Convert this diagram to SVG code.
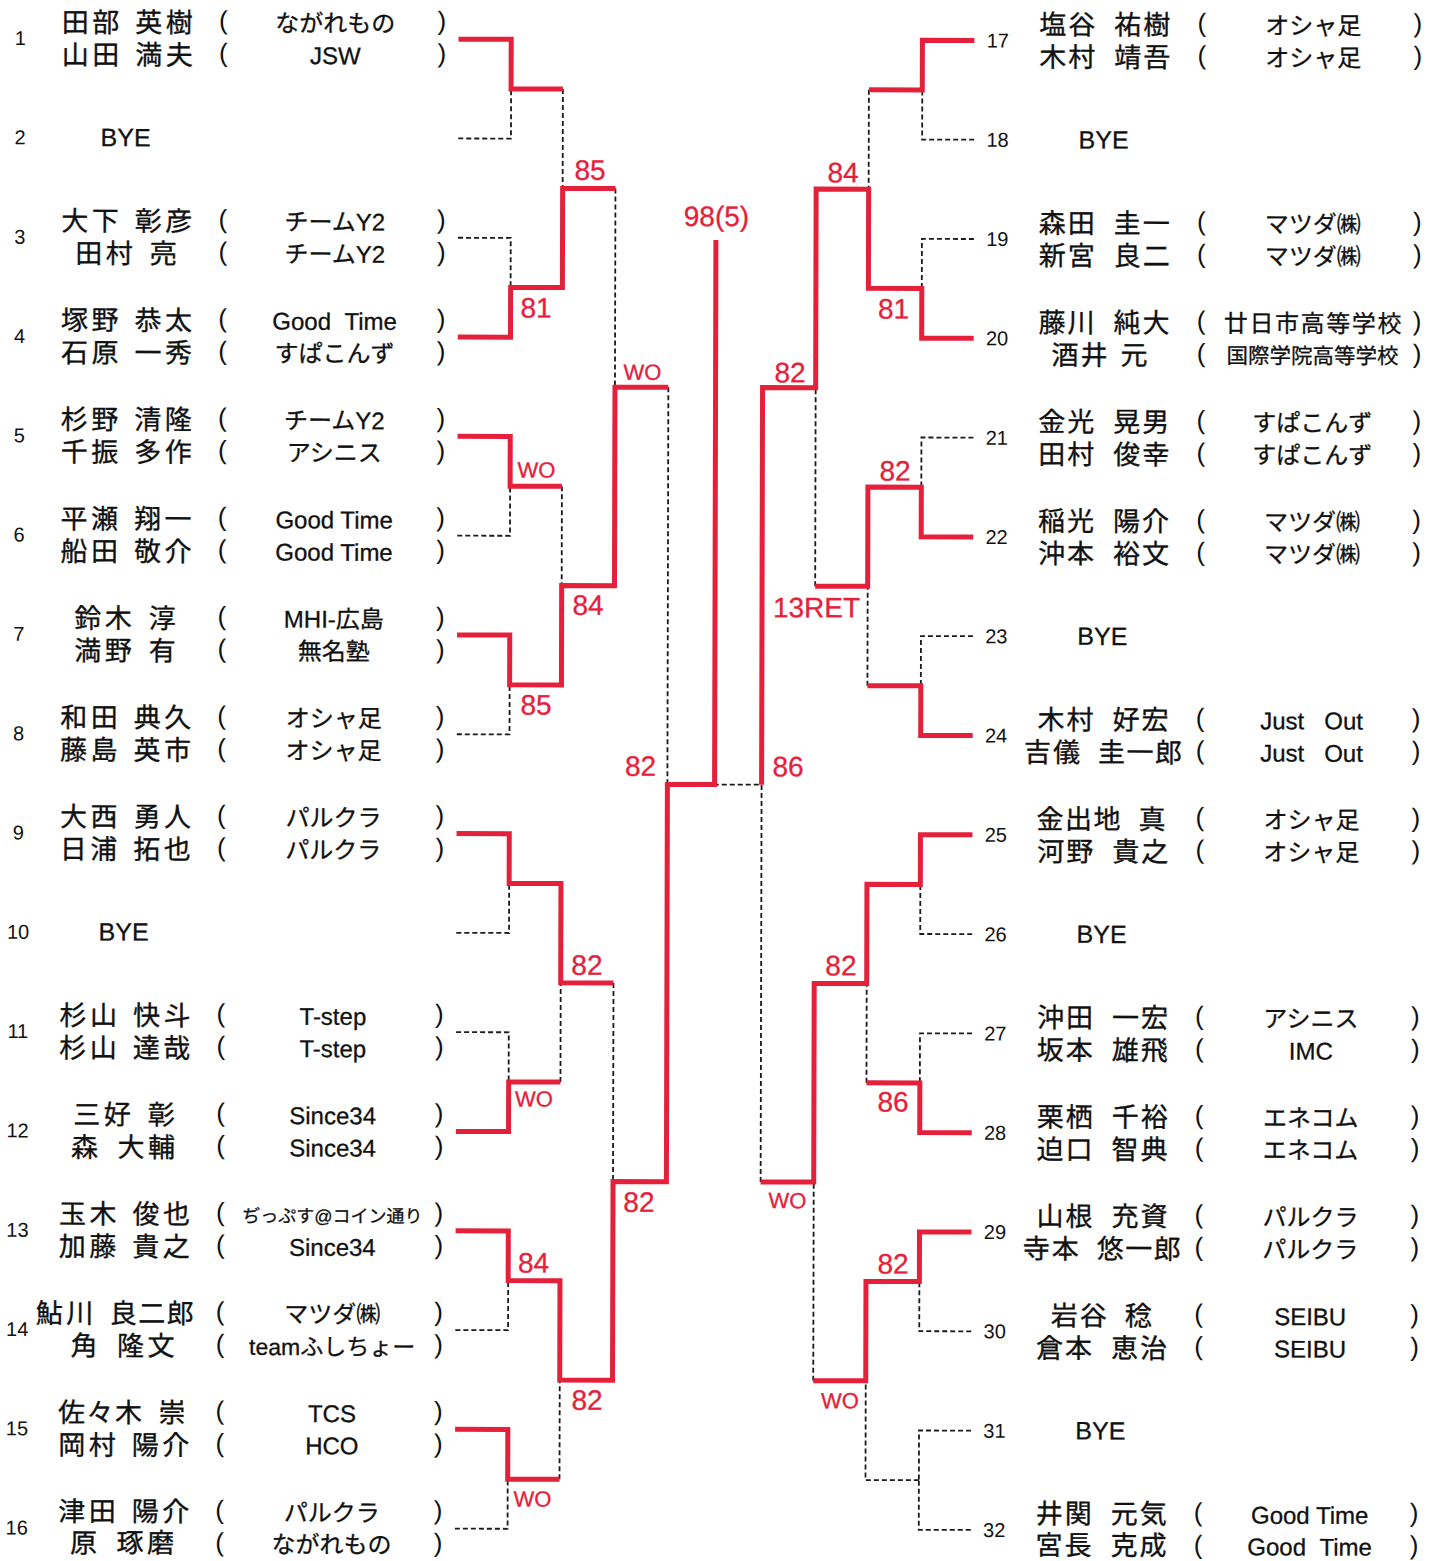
<svg xmlns="http://www.w3.org/2000/svg" width="1440" height="1561" viewBox="0 0 1440 1561">
<style>
.w{fill:none;stroke:#E5203A;stroke-width:5;stroke-linejoin:miter}
.d{fill:none;stroke:#1a1a1a;stroke-width:1.8;stroke-dasharray:5 3}
text{fill:#111}
.nm{font-family:"Noto Sans CJK JP","Noto Sans CJK SC",sans-serif;font-size:27px;stroke:#111;stroke-width:0.35px}
.a{letter-spacing:3.5px}
.b{letter-spacing:2px}
.c{letter-spacing:1.5px}
.tm{font-family:"Liberation Sans","Noto Sans CJK JP",sans-serif;font-size:24px;text-anchor:middle;stroke:#111;stroke-width:0.3px}
.pr{font-family:"Liberation Sans",sans-serif;font-size:26px;text-anchor:middle}
.no{font-family:"Liberation Sans",sans-serif;font-size:20px;text-anchor:middle}
.by{font-family:"Liberation Sans",sans-serif;font-size:25px;text-anchor:middle;stroke:#111;stroke-width:0.3px}
.sc{font-family:"Liberation Sans",sans-serif;font-size:28px;text-anchor:middle;fill:#E5203A;stroke:#E5203A;stroke-width:0.3px}
.wo{font-size:22px}
</style>
<rect width="1440" height="1561" fill="#fff"/>
<g transform="rotate(0.14 720 780)">
<g id="connectors">
<path class="d" d="M456.7,139.1 H509.4 V89.5 M456.7,238.4 H509.4 V288 M561.2,89.5 V188.8 M456.7,536.3 H509.4 V486.7 M456.7,734.9 H509.4 V685.3 M561.2,486.7 V586 M614,188.8 V387.4 M456.7,933.5 H509.4 V883.9 M456.7,1032.8 H509.4 V1082.5 M561.2,1082.5 V983.2 M456.7,1330.7 H509.4 V1281.1 M456.7,1529.3 H509.4 V1479.7 M561.2,1479.7 V1380.4 M614,983.2 V1181.8 M667.4,387.4 V784.6"/>
<path class="d" d="M972.6,139.1 H920.6 V89.5 M972.6,238.4 H920.6 V288 M867.2,89.5 V188.8 M972.6,437 H920.6 V486.7 M972.6,635.6 H920.6 V685.3 M867.2,685.3 V586 M814.7,586 V387.4 M972.6,933.5 H920.6 V883.9 M972.6,1032.8 H920.6 V1082.5 M867.2,1082.5 V983.2 M972.6,1330.7 H920.6 V1281.1 M972.6,1430 H920.6 V1479.7 M972.6,1529.3 H920.6 V1479.7 M920.6,1479.7 H867.2 V1380.4 M814.7,1380.4 V1181.8 M761.6,1181.8 V784.6 H714.6"/>
<path class="w" d="M456.7,39.8 H509.4 V89.5 H561.2"/>
<path class="w" d="M456.7,337.7 H509.4 V288 H561.2 V188.8 H614"/>
<path class="w" d="M456.7,437 H509.4 V486.7 H561.2"/>
<path class="w" d="M456.7,635.6 H509.4 V685.3 H561.2 V586 H614 V387.4 H667.4"/>
<path class="w" d="M456.7,834.2 H509.4 V883.9 H561.2 V983.2 H614"/>
<path class="w" d="M456.7,1132.1 H509.4 V1082.5 H561.2"/>
<path class="w" d="M456.7,1231.4 H509.4 V1281.1 H561.2 V1380.4 H614 V1181.8 H667.4 V784.6 H714.6 V240"/>
<path class="w" d="M456.7,1430 H509.4 V1479.7 H561.2"/>
<path class="w" d="M972.6,39.8 H920.6 V89.5 H867.2"/>
<path class="w" d="M972.6,337.7 H920.6 V288 H867.2 V188.8 H814.7 V387.4 H761.6 V784.6"/>
<path class="w" d="M972.6,536.3 H920.6 V486.7 H867.2 V586 H814.7"/>
<path class="w" d="M972.6,734.9 H920.6 V685.3 H867.2"/>
<path class="w" d="M972.6,834.2 H920.6 V883.9 H867.2 V983.2 H814.7 V1181.8 H761.6"/>
<path class="w" d="M972.6,1132.1 H920.6 V1082.5 H867.2"/>
<path class="w" d="M972.6,1231.4 H920.6 V1281.1 H867.2 V1380.4 H814.7"/>
</g>
<g id="scores">
<text class="sc" x="715.1" y="226">98(5)</text>
<text class="sc" x="588.5" y="180">85</text>
<text class="sc" x="534.9" y="318">81</text>
<text class="sc wo" x="641.5" y="380">WO</text>
<text class="sc wo" x="535.8" y="478">WO</text>
<text class="sc" x="587.6" y="615">84</text>
<text class="sc" x="535.8" y="715">85</text>
<text class="sc" x="640.5" y="776">82</text>
<text class="sc" x="587.4" y="975">82</text>
<text class="sc wo" x="534.8" y="1107">WO</text>
<text class="sc" x="640" y="1212">82</text>
<text class="sc" x="534.7" y="1273">84</text>
<text class="sc" x="588.5" y="1410">82</text>
<text class="sc wo" x="534.2" y="1507">WO</text>
<text class="sc" x="841.5" y="182">84</text>
<text class="sc" x="892.4" y="318">81</text>
<text class="sc" x="789" y="382">82</text>
<text class="sc" x="894.3" y="480">82</text>
<text class="sc" x="816.1" y="617">13RET</text>
<text class="sc" x="788" y="776">86</text>
<text class="sc" x="841.4" y="975">82</text>
<text class="sc" x="893.8" y="1111">86</text>
<text class="sc wo" x="788.5" y="1208">WO</text>
<text class="sc" x="894.2" y="1273">82</text>
<text class="sc wo" x="841.5" y="1408">WO</text>
</g>
<g id="slot-1">
<text class="no" x="18.5" y="46.8">1</text>
<text class="nm" y="33.5"><tspan class="a" x="60">田部</tspan><tspan class="a" x="133.5">英樹</tspan></text>
<text class="nm" y="66"><tspan class="a" x="60">山田</tspan><tspan class="a" x="133.5">満夫</tspan></text>
<text class="pr" y="30.3"><tspan x="221.5">(</tspan><tspan x="440">)</tspan></text>
<text class="pr" y="62.8"><tspan x="221.5">(</tspan><tspan x="440">)</tspan></text>
<text class="tm" x="333.5" y="32.8">ながれもの</text>
<text class="tm" x="333.5" y="65.1">JSW</text>
</g>
<g id="slot-2">
<text class="no" x="18.5" y="146.1">2</text>
<text class="by" x="124" y="147.6">BYE</text>
</g>
<g id="slot-3">
<text class="no" x="18.5" y="245.4">3</text>
<text class="nm" y="232.1"><tspan class="a" x="60">大下</tspan><tspan class="a" x="133.5">彰彦</tspan></text>
<text class="nm" y="264.6"><tspan class="a" x="74">田村</tspan><tspan x="148.5">亮</tspan></text>
<text class="pr" y="228.9"><tspan x="221.5">(</tspan><tspan x="440">)</tspan></text>
<text class="pr" y="261.4"><tspan x="221.5">(</tspan><tspan x="440">)</tspan></text>
<text class="tm" x="333.5" y="231.4">チームY2</text>
<text class="tm" x="333.5" y="263.7">チームY2</text>
</g>
<g id="slot-4">
<text class="no" x="18.5" y="344.7">4</text>
<text class="nm" y="331.4"><tspan class="a" x="60">塚野</tspan><tspan class="a" x="133.5">恭太</tspan></text>
<text class="nm" y="363.9"><tspan class="a" x="60">石原</tspan><tspan class="a" x="133.5">一秀</tspan></text>
<text class="pr" y="328.2"><tspan x="221.5">(</tspan><tspan x="440">)</tspan></text>
<text class="pr" y="360.7"><tspan x="221.5">(</tspan><tspan x="440">)</tspan></text>
<text class="tm" x="333.5" y="330.7">Good&#160;&#160;Time</text>
<text class="tm" x="333.5" y="363">すぱこんず</text>
</g>
<g id="slot-5">
<text class="no" x="18.5" y="444">5</text>
<text class="nm" y="430.7"><tspan class="a" x="60">杉野</tspan><tspan class="a" x="133.5">清隆</tspan></text>
<text class="nm" y="463.2"><tspan class="a" x="60">千振</tspan><tspan class="a" x="133.5">多作</tspan></text>
<text class="pr" y="427.5"><tspan x="221.5">(</tspan><tspan x="440">)</tspan></text>
<text class="pr" y="460"><tspan x="221.5">(</tspan><tspan x="440">)</tspan></text>
<text class="tm" x="333.5" y="430">チームY2</text>
<text class="tm" x="333.5" y="462.3">アシニス</text>
</g>
<g id="slot-6">
<text class="no" x="18.5" y="543.3">6</text>
<text class="nm" y="530"><tspan class="a" x="60">平瀬</tspan><tspan class="a" x="133.5">翔一</tspan></text>
<text class="nm" y="562.5"><tspan class="a" x="60">船田</tspan><tspan class="a" x="133.5">敬介</tspan></text>
<text class="pr" y="526.8"><tspan x="221.5">(</tspan><tspan x="440">)</tspan></text>
<text class="pr" y="559.3"><tspan x="221.5">(</tspan><tspan x="440">)</tspan></text>
<text class="tm" x="333.5" y="529.3">Good Time</text>
<text class="tm" x="333.5" y="561.6">Good Time</text>
</g>
<g id="slot-7">
<text class="no" x="18.5" y="642.6">7</text>
<text class="nm" y="629.3"><tspan class="a" x="74">鈴木</tspan><tspan x="148.5">淳</tspan></text>
<text class="nm" y="661.8"><tspan class="a" x="74">満野</tspan><tspan x="148.5">有</tspan></text>
<text class="pr" y="626.1"><tspan x="221.5">(</tspan><tspan x="440">)</tspan></text>
<text class="pr" y="658.6"><tspan x="221.5">(</tspan><tspan x="440">)</tspan></text>
<text class="tm" x="333.5" y="628.6">MHI-広島</text>
<text class="tm" x="333.5" y="660.9">無名塾</text>
</g>
<g id="slot-8">
<text class="no" x="18.5" y="741.9">8</text>
<text class="nm" y="728.6"><tspan class="a" x="60">和田</tspan><tspan class="a" x="133.5">典久</tspan></text>
<text class="nm" y="761.1"><tspan class="a" x="60">藤島</tspan><tspan class="a" x="133.5">英市</tspan></text>
<text class="pr" y="725.4"><tspan x="221.5">(</tspan><tspan x="440">)</tspan></text>
<text class="pr" y="757.9"><tspan x="221.5">(</tspan><tspan x="440">)</tspan></text>
<text class="tm" x="333.5" y="727.9">オシャ足</text>
<text class="tm" x="333.5" y="760.2">オシャ足</text>
</g>
<g id="slot-9">
<text class="no" x="18.5" y="841.2">9</text>
<text class="nm" y="827.9"><tspan class="a" x="60">大西</tspan><tspan class="a" x="133.5">勇人</tspan></text>
<text class="nm" y="860.4"><tspan class="a" x="60">日浦</tspan><tspan class="a" x="133.5">拓也</tspan></text>
<text class="pr" y="824.7"><tspan x="221.5">(</tspan><tspan x="440">)</tspan></text>
<text class="pr" y="857.2"><tspan x="221.5">(</tspan><tspan x="440">)</tspan></text>
<text class="tm" x="333.5" y="827.2">パルクラ</text>
<text class="tm" x="333.5" y="859.5">パルクラ</text>
</g>
<g id="slot-10">
<text class="no" x="18.5" y="940.5">10</text>
<text class="by" x="124" y="942">BYE</text>
</g>
<g id="slot-11">
<text class="no" x="18.5" y="1039.8">11</text>
<text class="nm" y="1026.5"><tspan class="a" x="60">杉山</tspan><tspan class="a" x="133.5">快斗</tspan></text>
<text class="nm" y="1059"><tspan class="a" x="60">杉山</tspan><tspan class="a" x="133.5">達哉</tspan></text>
<text class="pr" y="1023.3"><tspan x="221.5">(</tspan><tspan x="440">)</tspan></text>
<text class="pr" y="1055.8"><tspan x="221.5">(</tspan><tspan x="440">)</tspan></text>
<text class="tm" x="333.5" y="1025.8">T-step</text>
<text class="tm" x="333.5" y="1058.1">T-step</text>
</g>
<g id="slot-12">
<text class="no" x="18.5" y="1139.1">12</text>
<text class="nm" y="1125.8"><tspan class="a" x="74">三好</tspan><tspan x="148.5">彰</tspan></text>
<text class="nm" y="1158.3"><tspan x="72">森</tspan><tspan class="a" x="118.5">大輔</tspan></text>
<text class="pr" y="1122.6"><tspan x="221.5">(</tspan><tspan x="440">)</tspan></text>
<text class="pr" y="1155.1"><tspan x="221.5">(</tspan><tspan x="440">)</tspan></text>
<text class="tm" x="333.5" y="1125.1">Since34</text>
<text class="tm" x="333.5" y="1157.4">Since34</text>
</g>
<g id="slot-13">
<text class="no" x="18.5" y="1238.4">13</text>
<text class="nm" y="1225.1"><tspan class="a" x="60">玉木</tspan><tspan class="a" x="133.5">俊也</tspan></text>
<text class="nm" y="1257.6"><tspan class="a" x="60">加藤</tspan><tspan class="a" x="133.5">貴之</tspan></text>
<text class="pr" y="1221.9"><tspan x="221.5">(</tspan><tspan x="440">)</tspan></text>
<text class="pr" y="1254.4"><tspan x="221.5">(</tspan><tspan x="440">)</tspan></text>
<text class="tm" x="333.5" y="1223.4" style="font-size:18px">ぢっぷす@コイン通り</text>
<text class="tm" x="333.5" y="1256.7">Since34</text>
</g>
<g id="slot-14">
<text class="no" x="18.5" y="1337.7">14</text>
<text class="nm" y="1324.4"><tspan class="a" x="37">鮎川</tspan><tspan class="c" x="111">良二郎</tspan></text>
<text class="nm" y="1356.9"><tspan x="72">角</tspan><tspan class="a" x="118.5">隆文</tspan></text>
<text class="pr" y="1321.2"><tspan x="221.5">(</tspan><tspan x="440">)</tspan></text>
<text class="pr" y="1353.7"><tspan x="221.5">(</tspan><tspan x="440">)</tspan></text>
<text class="tm" x="333.5" y="1323.7">マツダ㈱</text>
<text class="tm" x="333.5" y="1356" style="font-size:23px">teamふしちょー</text>
</g>
<g id="slot-15">
<text class="no" x="18.5" y="1437">15</text>
<text class="nm" y="1423.7"><tspan class="c" x="59.5">佐々木</tspan><tspan x="160">崇</tspan></text>
<text class="nm" y="1456.2"><tspan class="a" x="60">岡村</tspan><tspan class="a" x="133.5">陽介</tspan></text>
<text class="pr" y="1420.5"><tspan x="221.5">(</tspan><tspan x="440">)</tspan></text>
<text class="pr" y="1453"><tspan x="221.5">(</tspan><tspan x="440">)</tspan></text>
<text class="tm" x="333.5" y="1423">TCS</text>
<text class="tm" x="333.5" y="1455.3">HCO</text>
</g>
<g id="slot-16">
<text class="no" x="18.5" y="1536.3">16</text>
<text class="nm" y="1522.5"><tspan class="a" x="60">津田</tspan><tspan class="a" x="133.5">陽介</tspan></text>
<text class="nm" y="1554"><tspan x="72">原</tspan><tspan class="a" x="118.5">琢磨</tspan></text>
<text class="pr" y="1519.8"><tspan x="221.5">(</tspan><tspan x="440">)</tspan></text>
<text class="pr" y="1552.3"><tspan x="221.5">(</tspan><tspan x="440">)</tspan></text>
<text class="tm" x="333.5" y="1522.3">パルクラ</text>
<text class="tm" x="333.5" y="1554">ながれもの</text>
</g>
<g id="slot-17">
<text class="no" x="996" y="46.8">17</text>
<text class="nm" y="33.5"><tspan class="b" x="1037.5">塩谷</tspan><tspan class="b" x="1112.5">祐樹</tspan></text>
<text class="nm" y="66"><tspan class="b" x="1037.5">木村</tspan><tspan class="b" x="1112.5">靖吾</tspan></text>
<text class="pr" y="30.3"><tspan x="1200">(</tspan><tspan x="1416">)</tspan></text>
<text class="pr" y="62.8"><tspan x="1200">(</tspan><tspan x="1416">)</tspan></text>
<text class="tm" x="1311.5" y="32.8">オシャ足</text>
<text class="tm" x="1311.5" y="65.1">オシャ足</text>
</g>
<g id="slot-18">
<text class="no" x="996" y="146.1">18</text>
<text class="by" x="1102" y="147.6">BYE</text>
</g>
<g id="slot-19">
<text class="no" x="996" y="245.4">19</text>
<text class="nm" y="232.1"><tspan class="b" x="1037.5">森田</tspan><tspan class="b" x="1112.5">圭一</tspan></text>
<text class="nm" y="264.6"><tspan class="b" x="1037.5">新宮</tspan><tspan class="b" x="1112.5">良二</tspan></text>
<text class="pr" y="228.9"><tspan x="1200">(</tspan><tspan x="1416">)</tspan></text>
<text class="pr" y="261.4"><tspan x="1200">(</tspan><tspan x="1416">)</tspan></text>
<text class="tm" x="1311.5" y="231.4">マツダ㈱</text>
<text class="tm" x="1311.5" y="263.7">マツダ㈱</text>
</g>
<g id="slot-20">
<text class="no" x="996" y="344.7">20</text>
<text class="nm" y="331.4"><tspan class="b" x="1037.5">藤川</tspan><tspan class="b" x="1112.5">純大</tspan></text>
<text class="nm" y="363.9"><tspan class="b" x="1050.5">酒井</tspan><tspan x="1119.5">元</tspan></text>
<text class="pr" y="328.2"><tspan x="1200">(</tspan><tspan x="1416">)</tspan></text>
<text class="pr" y="360.7"><tspan x="1200">(</tspan><tspan x="1416">)</tspan></text>
<text class="tm" x="1312.3" y="330.7" style="letter-spacing:1.6px">廿日市高等学校</text>
<text class="tm" x="1311.5" y="362" style="font-size:21.5px">国際学院高等学校</text>
</g>
<g id="slot-21">
<text class="no" x="996" y="444">21</text>
<text class="nm" y="430.7"><tspan class="b" x="1037.5">金光</tspan><tspan class="b" x="1112.5">晃男</tspan></text>
<text class="nm" y="463.2"><tspan class="b" x="1037.5">田村</tspan><tspan class="b" x="1112.5">俊幸</tspan></text>
<text class="pr" y="427.5"><tspan x="1200">(</tspan><tspan x="1416">)</tspan></text>
<text class="pr" y="460"><tspan x="1200">(</tspan><tspan x="1416">)</tspan></text>
<text class="tm" x="1311.5" y="430">すぱこんず</text>
<text class="tm" x="1311.5" y="462.3">すぱこんず</text>
</g>
<g id="slot-22">
<text class="no" x="996" y="543.3">22</text>
<text class="nm" y="530"><tspan class="b" x="1037.5">稲光</tspan><tspan class="b" x="1112.5">陽介</tspan></text>
<text class="nm" y="562.5"><tspan class="b" x="1037.5">沖本</tspan><tspan class="b" x="1112.5">裕文</tspan></text>
<text class="pr" y="526.8"><tspan x="1200">(</tspan><tspan x="1416">)</tspan></text>
<text class="pr" y="559.3"><tspan x="1200">(</tspan><tspan x="1416">)</tspan></text>
<text class="tm" x="1311.5" y="529.3">マツダ㈱</text>
<text class="tm" x="1311.5" y="561.6">マツダ㈱</text>
</g>
<g id="slot-23">
<text class="no" x="996" y="642.6">23</text>
<text class="by" x="1102" y="644">BYE</text>
</g>
<g id="slot-24">
<text class="no" x="996" y="741.9">24</text>
<text class="nm" y="728.6"><tspan class="b" x="1037.5">木村</tspan><tspan class="b" x="1112.5">好宏</tspan></text>
<text class="nm" y="761.1"><tspan class="b" x="1024">吉儀</tspan><tspan class="c" x="1098">圭一郎</tspan></text>
<text class="pr" y="725.4"><tspan x="1200">(</tspan><tspan x="1416">)</tspan></text>
<text class="pr" y="757.9"><tspan x="1200">(</tspan><tspan x="1416">)</tspan></text>
<text class="tm" x="1311.5" y="727.9">Just&#160;&#160;&#160;Out</text>
<text class="tm" x="1311.5" y="760.2">Just&#160;&#160;&#160;Out</text>
</g>
<g id="slot-25">
<text class="no" x="996" y="841.2">25</text>
<text class="nm" y="827.9"><tspan class="c" x="1036.5">金出地</tspan><tspan x="1138.5">真</tspan></text>
<text class="nm" y="860.4"><tspan class="b" x="1037.5">河野</tspan><tspan class="b" x="1112.5">貴之</tspan></text>
<text class="pr" y="824.7"><tspan x="1200">(</tspan><tspan x="1416">)</tspan></text>
<text class="pr" y="857.2"><tspan x="1200">(</tspan><tspan x="1416">)</tspan></text>
<text class="tm" x="1311.5" y="827.2">オシャ足</text>
<text class="tm" x="1311.5" y="859.5">オシャ足</text>
</g>
<g id="slot-26">
<text class="no" x="996" y="940.5">26</text>
<text class="by" x="1102" y="942">BYE</text>
</g>
<g id="slot-27">
<text class="no" x="996" y="1039.8">27</text>
<text class="nm" y="1026.5"><tspan class="b" x="1037.5">沖田</tspan><tspan class="b" x="1112.5">一宏</tspan></text>
<text class="nm" y="1059"><tspan class="b" x="1037.5">坂本</tspan><tspan class="b" x="1112.5">雄飛</tspan></text>
<text class="pr" y="1023.3"><tspan x="1200">(</tspan><tspan x="1416">)</tspan></text>
<text class="pr" y="1055.8"><tspan x="1200">(</tspan><tspan x="1416">)</tspan></text>
<text class="tm" x="1311.5" y="1025.8">アシニス</text>
<text class="tm" x="1311.5" y="1058.1">IMC</text>
</g>
<g id="slot-28">
<text class="no" x="996" y="1139.1">28</text>
<text class="nm" y="1125.8"><tspan class="b" x="1037.5">栗栖</tspan><tspan class="b" x="1112.5">千裕</tspan></text>
<text class="nm" y="1158.3"><tspan class="b" x="1037.5">迫口</tspan><tspan class="b" x="1112.5">智典</tspan></text>
<text class="pr" y="1122.6"><tspan x="1200">(</tspan><tspan x="1416">)</tspan></text>
<text class="pr" y="1155.1"><tspan x="1200">(</tspan><tspan x="1416">)</tspan></text>
<text class="tm" x="1311.5" y="1125.1">エネコム</text>
<text class="tm" x="1311.5" y="1157.4">エネコム</text>
</g>
<g id="slot-29">
<text class="no" x="996" y="1238.4">29</text>
<text class="nm" y="1225.1"><tspan class="b" x="1037.5">山根</tspan><tspan class="b" x="1112.5">充資</tspan></text>
<text class="nm" y="1257.6"><tspan class="b" x="1024">寺本</tspan><tspan class="c" x="1098">悠一郎</tspan></text>
<text class="pr" y="1221.9"><tspan x="1200">(</tspan><tspan x="1416">)</tspan></text>
<text class="pr" y="1254.4"><tspan x="1200">(</tspan><tspan x="1416">)</tspan></text>
<text class="tm" x="1311.5" y="1224.4">パルクラ</text>
<text class="tm" x="1311.5" y="1256.7">パルクラ</text>
</g>
<g id="slot-30">
<text class="no" x="996" y="1337.7">30</text>
<text class="nm" y="1324.4"><tspan class="b" x="1052">岩谷</tspan><tspan x="1126">稔</tspan></text>
<text class="nm" y="1356.9"><tspan class="b" x="1037.5">倉本</tspan><tspan class="b" x="1112.5">恵治</tspan></text>
<text class="pr" y="1321.2"><tspan x="1200">(</tspan><tspan x="1416">)</tspan></text>
<text class="pr" y="1353.7"><tspan x="1200">(</tspan><tspan x="1416">)</tspan></text>
<text class="tm" x="1311.5" y="1323.7">SEIBU</text>
<text class="tm" x="1311.5" y="1356">SEIBU</text>
</g>
<g id="slot-31">
<text class="no" x="996" y="1437">31</text>
<text class="by" x="1102" y="1438.5">BYE</text>
</g>
<g id="slot-32">
<text class="no" x="996" y="1536.3">32</text>
<text class="nm" y="1522.5"><tspan class="b" x="1037.5">井関</tspan><tspan class="b" x="1112.5">元気</tspan></text>
<text class="nm" y="1554"><tspan class="b" x="1037.5">宮長</tspan><tspan class="b" x="1112.5">克成</tspan></text>
<text class="pr" y="1519.8"><tspan x="1200">(</tspan><tspan x="1416">)</tspan></text>
<text class="pr" y="1552.3"><tspan x="1200">(</tspan><tspan x="1416">)</tspan></text>
<text class="tm" x="1311.5" y="1522.3">Good Time</text>
<text class="tm" x="1311.5" y="1554">Good&#160;&#160;Time</text>
</g>
</g>
</svg>
